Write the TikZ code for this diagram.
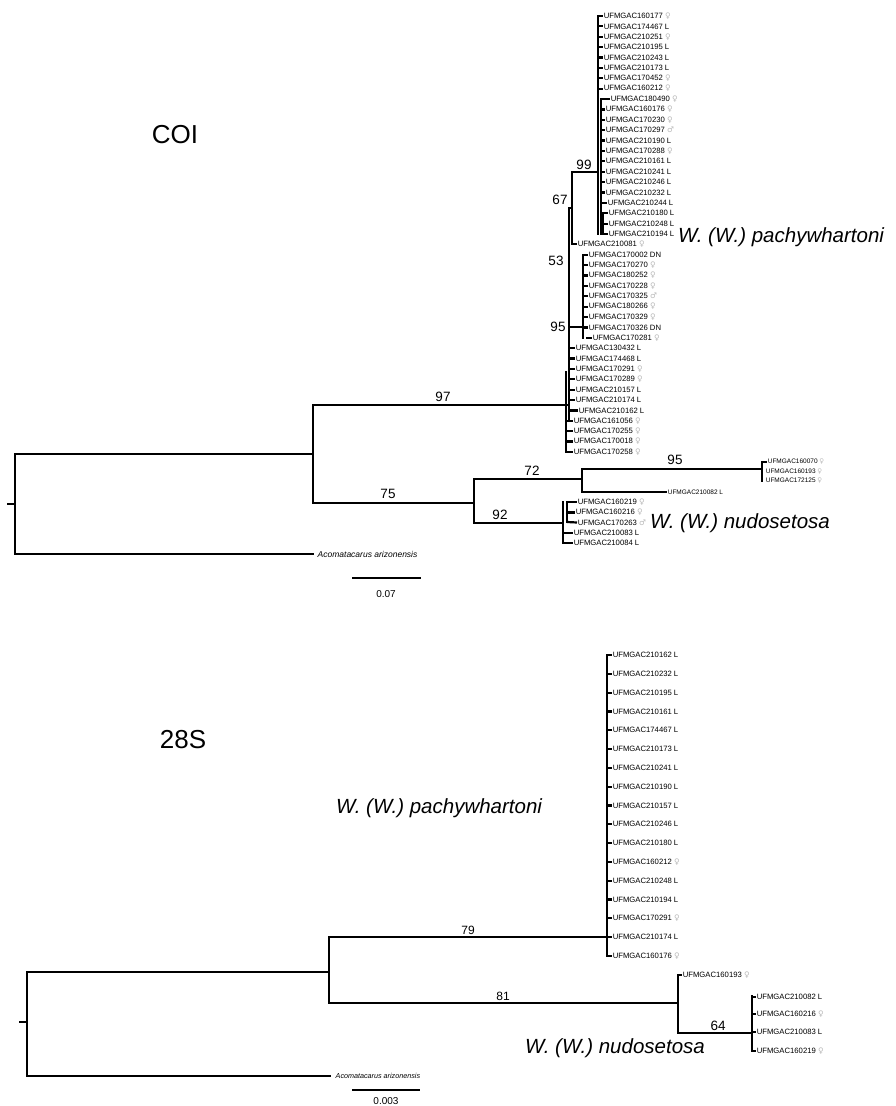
\documentclass[tikz,border=0pt]{standalone}
\usepackage{fontspec}
\setmainfont{Liberation Sans}
\newfontfamily\symfont{DejaVu Sans}
\newcommand{\sxf}{{\symfont\color{gray!55}\char"2640}}
\newcommand{\sxm}{{\symfont\color{gray!55}\char"2642}}
\begin{document}
\begin{tikzpicture}[x=1pt,y=-1pt,
  br/.style={line width=2.8pt, line cap=rect},
  stub/.style={line width=2.2pt},
  tip/.style={anchor=west, inner sep=0.6pt, font=\fontsize{7.7}{9}\selectfont},
  tipsm/.style={anchor=west, inner sep=0.6pt, font=\fontsize{6.5}{8}\selectfont},
  bs/.style={inner sep=0pt, font=\fontsize{13.5}{15}\selectfont},
  bss/.style={inner sep=0pt, font=\fontsize{12}{14}\selectfont},
  species/.style={anchor=west, inner sep=0pt, font=\fontsize{20.5}{24}\selectfont\itshape},
  title/.style={inner sep=0pt, font=\fontsize{26}{30}\selectfont},
  og/.style={anchor=west, inner sep=0.5pt, font=\fontsize{8.5}{10}\selectfont\itshape},
  sc/.style={inner sep=0pt, font=\fontsize{10}{12}\selectfont}]
\useasboundingbox[fill=white] (0,0) rectangle (895,1106);

% ================= COI =================
\node[title] (tcoi) at (175,135) {COI};

\foreach \lab/\lx/\vx [count=\k] in {
 UFMGAC160177 \sxf/603/598, UFMGAC174467 L/603/598, UFMGAC210251 \sxf/603/598,
 UFMGAC210195 L/603/598, UFMGAC210243 L/603/598, UFMGAC210173 L/603/598,
 UFMGAC170452 \sxf/603/598, UFMGAC160212 \sxf/603/598, UFMGAC180490 \sxf/610/601,
 UFMGAC160176 \sxf/605/601, UFMGAC170230 \sxf/605/601, UFMGAC170297 \sxm/605/601,
 UFMGAC210190 L/605/601, UFMGAC170288 \sxf/605/601, UFMGAC210161 L/605/601,
 UFMGAC210241 L/605/601, UFMGAC210246 L/605/601, UFMGAC210232 L/605/601,
 UFMGAC210244 L/607/601, UFMGAC210180 L/608/603, UFMGAC210248 L/608/603,
 UFMGAC210194 L/608/603, UFMGAC210081 \sxf/577/572, UFMGAC170002 DN/588/583,
 UFMGAC170270 \sxf/588/583, UFMGAC180252 \sxf/588/583, UFMGAC170228 \sxf/588/583,
 UFMGAC170325 \sxm/588/583, UFMGAC180266 \sxf/588/583, UFMGAC170329 \sxf/588/583,
 UFMGAC170326 DN/588/583, UFMGAC170281 \sxf/592/586, UFMGAC130432 L/575/569,
 UFMGAC174468 L/575/569, UFMGAC170291 \sxf/575/569, UFMGAC170289 \sxf/575/569,
 UFMGAC210157 L/575/569, UFMGAC210174 L/575/569, UFMGAC210162 L/578/569,
 UFMGAC161056 \sxf/573/566, UFMGAC170255 \sxf/573/566, UFMGAC170018 \sxf/573/566,
 UFMGAC170258 \sxf/573/566}{
  \pgfmathsetmacro\yy{16+(\k-1)*10.38}
  \node[tip] (coi\k) at (\lx,\yy) {\lab};
  \draw[stub] (\vx,\yy) -- (coi\k.west);
}

% internal nodes (COI)
\coordinate (c99t) at (598,16);   \coordinate (c99b) at (598,234);
\coordinate (c99h) at (598,172);
\coordinate (c99i) at (601,99);   \coordinate (c99j) at (601,234);
\coordinate (c99k) at (603,213);
\coordinate (c67) at (572,172);   \coordinate (c67b) at (572,244);
\coordinate (c67m) at (572,208);
\coordinate (c53) at (569,208);   \coordinate (c53b) at (569,420);
\coordinate (c95) at (569,327);   \coordinate (c95n) at (583,327);
\coordinate (c95t) at (583,255);  \coordinate (c95b) at (583,338);
\coordinate (c95u) at (586,327);
\coordinate (cin2t) at (566,372); \coordinate (cin2b) at (566,452);
\coordinate (cin) at (568,405);
\coordinate (c97) at (313,405);   \coordinate (c75) at (313,503);
\coordinate (croot) at (15,504);  \coordinate (crt) at (15,454);
\coordinate (crb) at (15,554);    \coordinate (cstub) at (8,504);
\coordinate (c97t) at (313,454);  \coordinate (cog) at (313,554);
\coordinate (n75) at (474,503);   \coordinate (n75t) at (474,479);
\coordinate (n75b) at (474,523);
\coordinate (n72) at (582,479);   \coordinate (n72t) at (582,469);
\coordinate (n72b) at (582,492);
\coordinate (n95) at (762,469);   \coordinate (n95t) at (762,462);
\coordinate (n95b) at (762,481);
\coordinate (n92) at (563,523);   \coordinate (n92t) at (563,502);
\coordinate (n92b) at (563,543);
\coordinate (n92s) at (567,502);  \coordinate (n92sb) at (567,522);

\draw[br] (c99t) -- (c99b);
\draw[br] (c99i) -- (c99j);
\draw[br] (c99k) -- (c99j -| c99k);
\draw[br] (c67) -- (c99h);
\draw[br] (c67) -- (c67b);
\draw[br] (c53) -- (c67m);
\draw[br] (c53) -- (c53b);
\draw[br] (c95) -- (c95n);
\draw[br] (c95t) -- (c95b);
\draw[br] (c95n) -- (c95u);
\draw[br] (cin2t) -- (cin2b);
\draw[br] (c97) -- (cin);
\draw[br] (c97) -- (c75);
\draw[br] (cstub) -- (croot);
\draw[br] (crt) -- (crb);
\draw[br] (crt) -- (c97t);
\draw[br] (crb) -- (cog);
\draw[br] (c75) -- (n75);
\draw[br] (n75t) -- (n75b);
\draw[br] (n75t) -- (n72);
\draw[br] (n72t) -- (n72b);
\draw[br] (n72t) -- (n95);
\draw[br] (n95t) -- (n95b);
\draw[br] (n75b) -- (n92);
\draw[br] (n92t) -- (n92b);
\draw[br] (n92s) -- (n92sb);

\node[tipsm] (o1) at (767,462) {UFMGAC160070 \sxf};
\node[tipsm] (o2) at (765,471.5) {UFMGAC160193 \sxf};
\node[tipsm] (o3) at (765,481) {UFMGAC172125 \sxf};
\draw[stub] (n95t) -- (o1.west);
\node[tipsm] (o4) at (667,492) {UFMGAC210082 L};
\draw[br] (n72b) -- (662,492);
\draw[stub] (662,492) -- (o4.west);

\node[tip] (u1) at (577,502) {UFMGAC160219 \sxf};
\node[tip] (u2) at (575,512.5) {UFMGAC160216 \sxf};
\node[tip] (u3) at (577,522.5) {UFMGAC170263 \sxm};
\node[tip] (u4) at (573,533) {UFMGAC210083 L};
\node[tip] (u5) at (573,543) {UFMGAC210084 L};
\draw[stub] (n92s) -- (u1.west);
\draw[stub] (567,512.5) -- (u2.west);
\draw[stub] (n92sb) -- (u3.west);
\draw[stub] (563,533) -- (u4.west);
\draw[stub] (n92b) -- (u5.west);

\node[og] (ogc) at (317,554) {Acomatacarus arizonensis};

\node[bs] (b99) at (584,165) {99};
\node[bs] (b67) at (560,200) {67};
\node[bs] (b53) at (556,261) {53};
\node[bs] (b95) at (558,327) {95};
\node[bs] (b97) at (443,397) {97};
\node[bs] (b75) at (388,494) {75};
\node[bs] (b72) at (532,471) {72};
\node[bs] (b95o) at (675,460) {95};
\node[bs] (b92) at (500,515) {92};

\node[species] (spp1) at (678,237) {W. (W.) pachywhartoni};
\node[species] (spn1) at (650,523) {W. (W.) nudosetosa};

\coordinate (sb1) at (352,578); \coordinate (sb2) at (421,578);
\draw[line width=1.6pt] (sb1) -- (sb2);
\node[sc] (sbt1) at (386,594) {0.07};

% ================= 28S =================
\node[title] (t28) at (183,740) {28S};

\foreach \lab [count=\k] in {
 UFMGAC210162 L, UFMGAC210232 L, UFMGAC210195 L, UFMGAC210161 L, UFMGAC174467 L,
 UFMGAC210173 L, UFMGAC210241 L, UFMGAC210190 L, UFMGAC210157 L, UFMGAC210246 L,
 UFMGAC210180 L, UFMGAC160212 \sxf, UFMGAC210248 L, UFMGAC210194 L,
 UFMGAC170291 \sxf, UFMGAC210174 L, UFMGAC160176 \sxf}{
  \pgfmathsetmacro\yy{655+(\k-1)*18.8}
  \node[tip] (s\k) at (612,\yy) {\lab};
  \draw[stub] (607,\yy) -- (s\k.west);
}

\coordinate (p79t) at (607,655);  \coordinate (p79b) at (607,956);
\coordinate (p79h) at (607,937);
\coordinate (pn) at (329,937);    \coordinate (pnb) at (329,1003);
\coordinate (pr) at (27,1022);    \coordinate (prt) at (27,972);
\coordinate (prb) at (27,1076);   \coordinate (prs) at (20,1022);
\coordinate (pnm) at (329,972);   \coordinate (pog) at (330,1076);
\coordinate (p81) at (678,1003);  \coordinate (p81t) at (678,975);
\coordinate (p81b) at (678,1033);
\coordinate (p64) at (752,1033);  \coordinate (p64t) at (752,996);
\coordinate (p64b) at (752,1051);

\draw[br] (p79t) -- (p79b);
\draw[br] (pn) -- (p79h);
\draw[br] (pn) -- (pnb);
\draw[br] (prs) -- (pr);
\draw[br] (prt) -- (prb);
\draw[br] (prt) -- (pnm);
\draw[br] (prb) -- (pog);
\draw[br] (pnb) -- (p81);
\draw[br] (p81t) -- (p81b);
\draw[br] (p81b) -- (p64);
\draw[br] (p64t) -- (p64b);

\node[tip] (q0) at (682,975) {UFMGAC160193 \sxf};
\draw[stub] (p81t) -- (q0.west);
\node[tip] (q1) at (756,997) {UFMGAC210082 L};
\node[tip] (q2) at (756,1014) {UFMGAC160216 \sxf};
\node[tip] (q3) at (756,1032) {UFMGAC210083 L};
\node[tip] (q4) at (756,1051) {UFMGAC160219 \sxf};
\foreach \q in {q1,q2,q3,q4}{ \draw[stub] (p64t |- \q.west) -- (\q.west); }

\node[og, font=\fontsize{7.2}{8}\selectfont\itshape] (og28) at (335,1076) {Acomatacarus arizonensis};

\node[bss] (b79) at (468,930) {79};
\node[bss] (b81) at (503,996) {81};
\node[bs] (b64) at (718,1026) {64};

\node[species] (spp2) at (336,808) {W. (W.) pachywhartoni};
\node[species] (spn2) at (525,1048) {W. (W.) nudosetosa};

\coordinate (sc1) at (352,1090); \coordinate (sc2) at (420,1090);
\draw[line width=1.6pt] (sc1) -- (sc2);
\node[sc] (sbt2) at (386,1101) {0.003};
\end{tikzpicture}
\end{document}
